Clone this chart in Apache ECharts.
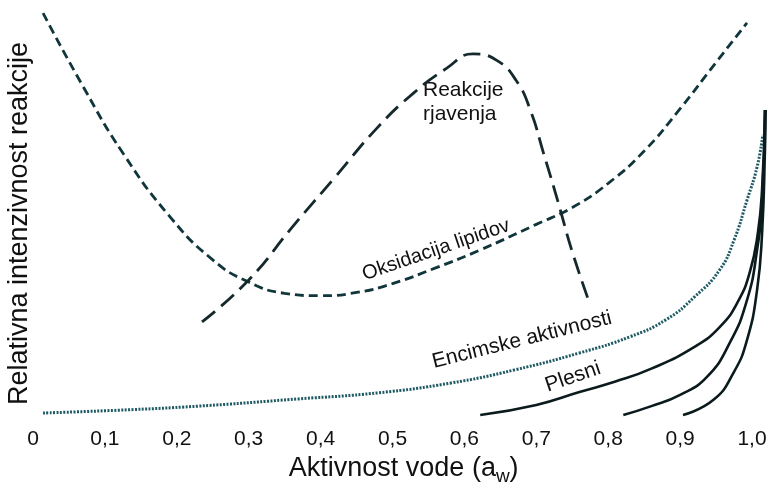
<!DOCTYPE html>
<html>
<head>
<meta charset="utf-8">
<script src="https://cdn.jsdelivr.net/npm/echarts@6/dist/echarts.min.js"></script>
<style>
html,body{margin:0;padding:0;background:#fff;}
#c{width:771px;height:484px;}
</style>
</head>
<body>
<div id="c"></div>
<script>
// ---- data (x = water activity a_w, y = relative intensity 0..100) ----
var tickLabels = ['0','0,1','0,2','0,3','0,4','0,5','0,6','0,7','0,8','0,9','1,0'];

var lipidX = [0.014,0.07,0.125,0.19,0.25,0.30,0.35,0.40,0.45,0.50,0.56,0.62,0.70,0.75,0.80,0.85,0.90,0.95,0.993];
var lipidY = [99.7,81.4,65.0,49.3,38.5,33.0,30.2,29.6,30.4,32.6,36.5,40.8,47.3,51.5,57.5,65.5,76.0,87.5,97.3];

var brownX = [0.235,0.30,0.36,0.42,0.48,0.53,0.575,0.612,0.645,0.672,0.692,0.71,0.73,0.75,0.775];
var brownY = [23.1,33.5,46.5,59.0,71.5,80.0,86.0,89.6,88.0,83.0,75.5,65.0,53.0,40.5,27.3];

var enzymeX = [0.014,0.12,0.23,0.37,0.48,0.58,0.67,0.76,0.83,0.88,0.92,0.955,0.975,0.993,1.007,1.015];
var enzymeY = [0.5,1.2,2.2,4.0,5.5,7.9,11.2,15.4,19.4,23.6,29.3,36.0,43.4,53.3,61.5,69.5];

var mould1X = [0.622,0.70,0.76,0.81,0.86,0.92,0.955,0.98,0.997,1.008,1.014,1.018];
var mould1Y = [0.0,2.5,5.7,8.3,11.5,16.9,21.8,28.0,35.5,45.0,56.0,75.7];

var mould2X = [0.821,0.86,0.90,0.937,0.969,0.993,1.007,1.014,1.018];
var mould2Y = [0.0,2.2,5.0,9.4,17.9,28.5,40.9,53.3,75.7];

var mould3X = [0.904,0.946,0.974,0.993,1.007,1.014,1.018,1.019];
var mould3Y = [0.0,3.7,10.4,18.6,31.0,45.2,65.8,75.7];

function zip(xs, ys){ return xs.map(function(x,i){ return [x, ys[i]]; }); }

var FONT = '"Liberation Sans", Arial, Helvetica, sans-serif';
var chart = echarts.init(document.getElementById('c'), null, {renderer:'canvas'});

function lineSeries(name, xs, ys, color, width, type){
  return {
    name: name, type: 'line', data: zip(xs, ys), showSymbol: false, symbol: 'none',
    smooth: 0.5, clip: false, silent: true,
    lineStyle: { color: color, width: width, type: type, cap: 'butt' }
  };
}

chart.setOption({
  animation: false,
  backgroundColor: '#ffffff',
  grid: { left: 33, right: 4.6, top: 12, bottom: 69, containLabel: false, outerBoundsMode: 'none' },
  xAxis: {
    type: 'value', min: 0, max: 1.02, interval: 0.1,
    axisLine: { show: false }, axisTick: { show: false }, splitLine: { show: false },
    axisLabel: {
      show: true, margin: 14, fontSize: 21, color: '#111', fontFamily: FONT,
      showMaxLabel: false,
      formatter: function(v){ var i = Math.round(v*10); return i <= 10 ? tickLabels[i] : ''; }
    },
    name: '{n|Aktivnost vode (a}{s|w}{n|)}',
    nameLocation: 'middle', nameGap: 36,
    nameTextStyle: {
      align: 'center',
      padding: [0, 0, 0, 8],
      rich: {
        n: { fontSize: 27, color: '#111', fontFamily: FONT },
        s: { fontSize: 19, color: '#111', fontFamily: FONT, padding: [16,0,0,0] }
      }
    }
  },
  yAxis: {
    type: 'value', min: 0, max: 100,
    axisLine: { show: false }, axisTick: { show: false }, splitLine: { show: false },
    axisLabel: { show: false },
    name: 'Relativna intenzivnost reakcije',
    nameLocation: 'middle', nameGap: 0, nameRotate: 90,
    nameTextStyle: { fontSize: 27, color: '#111', fontFamily: FONT, padding: [0, 20, 0, 0] }
  },
  series: [
    lineSeries('Oksidacija lipidov', lipidX, lipidY, '#10363b', 2.8, [9,5]),
    lineSeries('Reakcije rjavenja', brownX, brownY, '#15292c', 2.8, [17,8]),
    lineSeries('Encimske aktivnosti', enzymeX, enzymeY, '#1e5a63', 3, [2,1.4]),
    lineSeries('Plesni 1', mould1X, mould1Y, '#0b1b1d', 2.6, 'solid'),
    lineSeries('Plesni 2', mould2X, mould2Y, '#0b1b1d', 2.6, 'solid'),
    lineSeries('Plesni 3', mould3X, mould3Y, '#0b1b1d', 2.6, 'solid')
  ],
  graphic: [
    { type: 'text', left: 423, top: 78, style: { text: 'Reakcije\nrjavenja', font: '21px ' + FONT, fill: '#111', lineHeight: 24 } },
    { type: 'text', x: 436, y: 250, rotation: 0.33, style: { text: 'Oksidacija lipidov', font: '20px ' + FONT, fill: '#111', align: 'center', verticalAlign: 'middle' } },
    { type: 'text', x: 522, y: 340, rotation: 0.245, style: { text: 'Encimske aktivnosti', font: '21px ' + FONT, fill: '#111', align: 'center', verticalAlign: 'middle' } },
    { type: 'text', x: 573, y: 377, rotation: 0.33, style: { text: 'Plesni', font: '21px ' + FONT, fill: '#111', align: 'center', verticalAlign: 'middle' } }
  ]
});
</script>
</body>
</html>
